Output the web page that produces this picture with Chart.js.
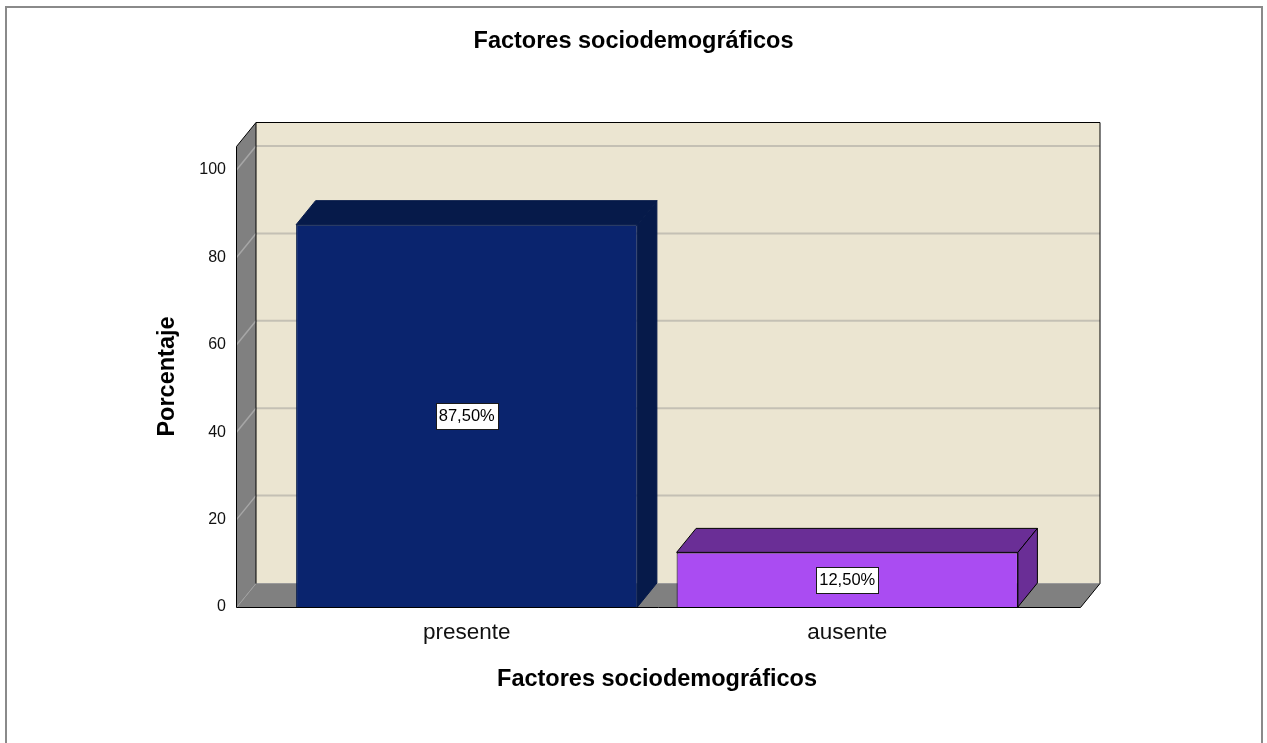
<!DOCTYPE html>
<html>
<head>
<meta charset="utf-8">
<script src="https://cdn.jsdelivr.net/npm/chart.js@4.4.1/dist/chart.umd.min.js"></script>
<style>
  html, body { margin: 0; padding: 0; background: #fff; }
  #wrap { width: 1267px; height: 743px; }
</style>
</head>
<body>
<div id="wrap"><canvas id="chart" width="1267" height="743"></canvas></div>
<script>
const chartTitle = "Factores sociodemográficos";
const xTitle = "Factores sociodemográficos";
const yTitle = "Porcentaje";
const categories = ["presente", "ausente"];
const percentValues = [87.5, 12.5];
const yTicks = [0, 20, 40, 60, 80, 100];

const barColors = ["#0a246e", "#aa4cf2"];
const barShadeColors = ["#061a4a", "#6a2e96"];
const barBorderColors = ["#061a4a", "#000000"];

const DEPTH_X = 19.5;
const DEPTH_Y = 24;
const FLOOR_EXT_LEFT = 40.5;
const FLOOR_EXT_RIGHT = 42.5;
const FONT = "'Liberation Sans', Arial, sans-serif";

Chart.defaults.font.family = FONT;

function poly(ctx, pts, fill, stroke) {
  ctx.beginPath();
  ctx.moveTo(pts[0][0], pts[0][1]);
  for (let i = 1; i < pts.length; i++) ctx.lineTo(pts[i][0], pts[i][1]);
  ctx.closePath();
  if (fill) {
    ctx.fillStyle = fill;
    ctx.fill();
  }
  if (stroke) {
    ctx.strokeStyle = stroke;
    ctx.stroke();
  }
}

function line(ctx, x1, y1, x2, y2, color, width) {
  ctx.beginPath();
  ctx.moveTo(x1, y1);
  ctx.lineTo(x2, y2);
  ctx.strokeStyle = color;
  ctx.lineWidth = width || 1;
  ctx.stroke();
}

function formatPercent(v) {
  return v.toFixed(2).replace(".", ",") + "%";
}

// frame round the whole picture
const framePlugin = {
  id: "framePlugin",
  beforeDraw(chart) {
    const ctx = chart.ctx;
    ctx.save();
    ctx.fillStyle = "#ffffff";
    ctx.fillRect(0, 0, chart.width, chart.height);
    ctx.strokeStyle = "#8a8a8a";
    ctx.lineWidth = 2;
    ctx.strokeRect(6, 7, 1256, 800);
    ctx.restore();
  }
};

// back wall, left wall, floor and grid lines
const walls3d = {
  id: "walls3d",
  beforeDatasetsDraw(chart) {
    const { ctx, chartArea } = chart;
    const yScale = chart.scales.y;
    const x0 = Math.round(chartArea.left - FLOOR_EXT_LEFT) + 0.5;
    const x1 = Math.round(chartArea.right + FLOOR_EXT_RIGHT) + 0.5;
    const yBase = Math.round(yScale.getPixelForValue(0)) + 0.5;
    const yTop = Math.round(chartArea.top) + 0.5;
    const bx0 = x0 + DEPTH_X, bx1 = x1 + DEPTH_X;

    ctx.save();
    ctx.lineWidth = 1;

    ctx.fillStyle = "#ebe5d1";
    ctx.fillRect(bx0, yTop - DEPTH_Y, bx1 - bx0, yBase - yTop);

    poly(ctx, [[x0, yBase], [x0, yTop], [bx0, yTop - DEPTH_Y], [bx0, yBase - DEPTH_Y]], "#808080");
    poly(ctx, [[x0, yBase], [bx0, yBase - DEPTH_Y], [bx1, yBase - DEPTH_Y], [x1, yBase]], "#808080");

    yTicks.forEach(function (v) {
      if (v === 0) return;
      const py = yScale.getPixelForValue(v);
      line(ctx, bx0, py - DEPTH_Y, bx1, py - DEPTH_Y, "#c4c0b4", 2);
      line(ctx, x0, py, bx0, py - DEPTH_Y, "#a6a6a6", 1.5);
    });

    line(ctx, x0, yBase, bx0, yBase - DEPTH_Y, "#a0a0a0", 1);
    line(ctx, bx0, yBase - DEPTH_Y, bx1, yBase - DEPTH_Y, "#9a9a9a", 1);

    // dark edges
    ctx.strokeStyle = "#000";
    ctx.lineWidth = 1;
    ctx.beginPath();
    ctx.moveTo(x0, yBase);
    ctx.lineTo(x0, yTop);
    ctx.lineTo(bx0, yTop - DEPTH_Y);
    ctx.lineTo(bx1, yTop - DEPTH_Y);
    ctx.lineTo(bx1, yBase - DEPTH_Y);
    ctx.lineTo(x1, yBase);
    ctx.lineTo(x0, yBase);
    ctx.moveTo(bx0, yTop - DEPTH_Y);
    ctx.lineTo(bx0, yBase - DEPTH_Y);
    ctx.stroke();
    ctx.restore();
  }
};

// top and side faces of the bars, then the value boxes
const bars3d = {
  id: "bars3d",
  afterDatasetsDraw(chart) {
    const ctx = chart.ctx;
    const meta = chart.getDatasetMeta(0);
    ctx.save();
    ctx.lineWidth = 1;
    meta.data.forEach(function (bar, i) {
      const p = bar.getProps(["x", "y", "base", "width"], true);
      const l = p.x - p.width / 2;
      const r = p.x + p.width / 2;
      const top = p.y;
      const base = p.base;

      poly(ctx, [[l, top], [l + DEPTH_X, top - DEPTH_Y], [r + DEPTH_X, top - DEPTH_Y], [r, top]],
        barShadeColors[i], barBorderColors[i]);
      poly(ctx, [[r, top], [r + DEPTH_X, top - DEPTH_Y], [r + DEPTH_X, base - DEPTH_Y], [r, base]],
        barShadeColors[i], barBorderColors[i]);

      const text = formatPercent(percentValues[i]);
      ctx.font = "16.5px " + FONT;
      const tw = ctx.measureText(text).width;
      const cy = (top + base) / 2;
      const bw = Math.round(tw + 6);
      const bh = 26;
      const bxl = Math.round(p.x - bw / 2) + 0.5;
      const byt = Math.round(cy - bh / 2) + 0.5;
      ctx.fillStyle = "#ffffff";
      ctx.fillRect(bxl, byt, bw, bh);
      ctx.strokeStyle = "#1a1a1a";
      ctx.strokeRect(bxl, byt, bw, bh);
      ctx.fillStyle = "#000";
      ctx.textAlign = "center";
      ctx.textBaseline = "middle";
      ctx.fillText(text, p.x, cy + 1);
    });
    ctx.restore();
  }
};

new Chart(document.getElementById("chart"), {
  type: "bar",
  data: {
    labels: categories,
    datasets: [{
      label: yTitle,
      data: percentValues,
      backgroundColor: barColors,
      borderColor: barBorderColors,
      borderWidth: 1,
      barPercentage: 0.897,
      categoryPercentage: 1
    }]
  },
  options: {
    responsive: false,
    animation: false,
    layout: { padding: 0 },
    plugins: {
      legend: { display: false },
      tooltip: { enabled: false },
      title: {
        display: true,
        text: chartTitle,
        color: "#000",
        font: { family: FONT, size: 23.5, weight: "bold" },
        padding: { top: 27, bottom: 90.8 }
      }
    },
    scales: {
      x: {
        grid: { display: false, drawTicks: false },
        border: { display: false },
        ticks: { color: "#111", font: { family: FONT, size: 22.5 }, padding: 12 },
        title: {
          display: true,
          text: xTitle,
          color: "#000",
          font: { family: FONT, size: 23.5, weight: "bold" },
          padding: { top: 0, bottom: 49.3 }
        },
        afterFit: function (scale) { scale.height = 136; }
      },
      y: {
        min: 0,
        max: 105.5,
        grid: { display: false, drawTicks: false },
        border: { display: false },
        ticks: { color: "#111", font: { family: FONT, size: 16 }, padding: 50.5 },
        afterBuildTicks: function (scale) {
          scale.ticks = yTicks.map(function (v) { return { value: v }; });
        },
        title: {
          display: true,
          text: yTitle,
          color: "#000",
          font: { family: FONT, size: 23.5, weight: "bold" },
          padding: { top: 153.4, bottom: 0 }
        },
        afterFit: function (scale) { scale.width = 276.5; }
      },
      yRight: {
        position: "right",
        display: true,
        grid: { display: false, drawTicks: false },
        border: { display: false },
        ticks: { display: false },
        afterFit: function (scale) { scale.width = 229.5; }
      }
    }
  },
  plugins: [framePlugin, walls3d, bars3d]
});
</script>
</body>
</html>
